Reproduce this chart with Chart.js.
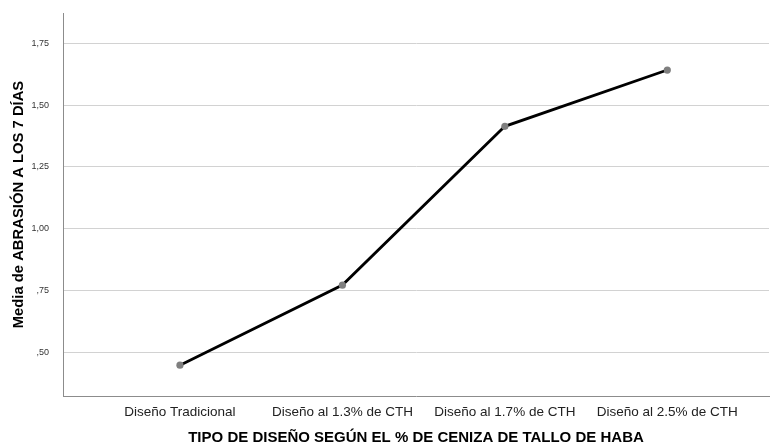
<!DOCTYPE html>
<html lang="es">
<head>
    <meta charset="UTF-8">
    <title>Media de abrasión a los 7 días</title>
    <script src="https://cdn.jsdelivr.net/npm/chart.js"></script>
    <style>
        html, body { margin: 0; padding: 0; background: #ffffff; overflow: hidden; }
        #wrap { width: 773px; height: 447px; position: relative; }
    </style>
</head>
<body>
    <div id="wrap">
        <canvas id="abrasionChart"></canvas>
    </div>

    <script>
        // Data
        const categories = [
            "Diseño Tradicional",
            "Diseño al 1.3% de CTH",
            "Diseño al 1.7% de CTH",
            "Diseño al 2.5% de CTH"
        ];
        const categoryPos = [1, 2, 3, 4];
        const meanAbrasion = [0.447, 0.771, 1.414, 1.642];
        const yTickValues = [0.50, 0.75, 1.00, 1.25, 1.50, 1.75];
        const yTickLabels = [",50", ",75", "1,00", "1,25", "1,50", "1,75"];

        const points = categoryPos.map((x, i) => ({ x: x, y: meanAbrasion[i] }));

        const ctx = document.getElementById("abrasionChart").getContext("2d");
        new Chart(ctx, {
            type: "line",
            data: {
                datasets: [{
                    label: "Media de ABRASIÓN A LOS 7 DÍAS",
                    data: points,
                    borderColor: "#000000",
                    borderWidth: 2.8,
                    pointBackgroundColor: "#7f7f7f",
                    pointBorderColor: "#7f7f7f",
                    pointBorderWidth: 0,
                    pointRadius: 3.6,
                    tension: 0,
                    fill: false
                }]
            },
            options: {
                responsive: true,
                maintainAspectRatio: false,
                animation: false,
                layout: { padding: { top: 13, right: 0, bottom: 0, left: 0 } },
                plugins: {
                    legend: { display: false },
                    tooltip: { enabled: false }
                },
                scales: {
                    x: {
                        type: "linear",
                        min: 0.28,
                        max: 4.626,
                        afterBuildTicks: (axis) => {
                            axis.ticks = categoryPos.map(v => ({ value: v }));
                        },
                        afterFit: (axis) => {
                            axis.height = 51;
                            axis.paddingLeft = 0;
                            axis.paddingRight = 0;
                        },
                        grid: { display: false, drawTicks: false },
                        border: { display: true, color: "#8c8c8c", width: 1 },
                        ticks: {
                            autoSkip: false,
                            maxRotation: 0,
                            padding: 8,
                            color: "#222222",
                            font: { family: "'Liberation Sans', Arial, sans-serif", size: 13.5 },
                            callback: (value) => categories[value - 1] ?? ""
                        },
                        title: {
                            display: true,
                            text: "TIPO DE DISEÑO SEGÚN EL % DE CENIZA DE TALLO DE HABA",
                            color: "#000000",
                            padding: { top: 0, bottom: 0 },
                            font: { family: "'Liberation Sans', Arial, sans-serif", size: 15, weight: "bold" }
                        }
                    },
                    y: {
                        min: 0.322,
                        max: 1.873,
                        afterBuildTicks: (axis) => {
                            axis.ticks = yTickValues.map(v => ({ value: v }));
                        },
                        afterFit: (axis) => {
                            axis.width = 63;
                            axis.paddingTop = 0;
                            axis.paddingBottom = 0;
                        },
                        grid: { color: "#d2d2d2", lineWidth: 1, drawTicks: false },
                        border: { display: true, color: "#8c8c8c", width: 1 },
                        ticks: {
                            padding: 14,
                            color: "#333333",
                            font: { family: "'Liberation Sans', Arial, sans-serif", size: 9 },
                            callback: (value) => {
                                const i = yTickValues.findIndex(v => Math.abs(v - value) < 1e-6);
                                return i >= 0 ? yTickLabels[i] : "";
                            }
                        },
                        title: {
                            display: true,
                            text: "Media de ABRASIÓN A LOS 7 DÍAS",
                            color: "#000000",
                            padding: { top: 10.5, bottom: 0 },
                            font: { family: "'Liberation Sans', Arial, sans-serif", size: 14.8, weight: "bold" }
                        }
                    }
                }
            }
        });
    </script>
</body>
</html>
